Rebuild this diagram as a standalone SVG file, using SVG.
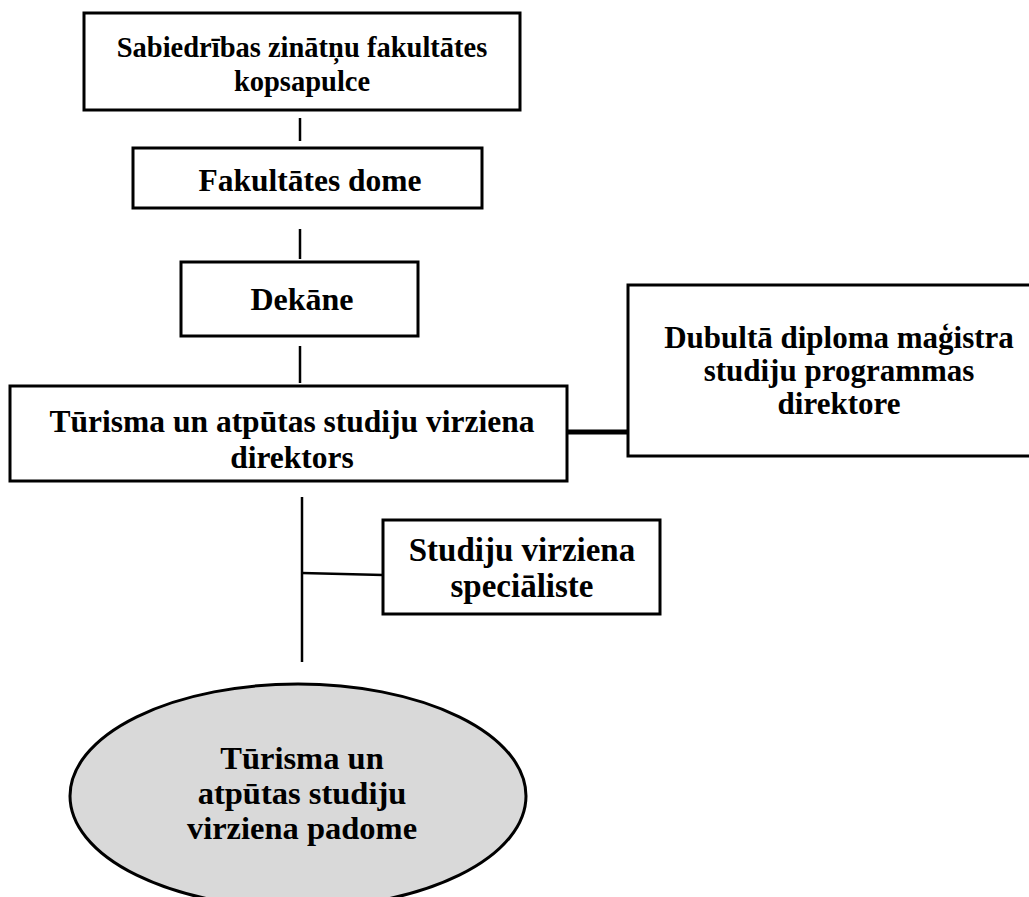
<svg xmlns="http://www.w3.org/2000/svg" width="1029" height="897" viewBox="0 0 1029 897">
<style>
.box{fill:#fff;stroke:#000;stroke-width:3}
.t{font-family:"Liberation Serif",serif;font-weight:bold;font-size:31.5px;text-anchor:middle;fill:#000}
.c{stroke:#000;stroke-width:2.5;fill:none}
</style>
<rect width="1029" height="897" fill="#fff"/>
<g id="connectors">
<line class="c" x1="300" y1="118" x2="300" y2="141"/>
<line class="c" x1="300" y1="229" x2="300" y2="259"/>
<line class="c" x1="300" y1="346" x2="300" y2="383"/>
<line class="c" x1="567" y1="432" x2="628" y2="432" style="stroke-width:5"/>
<line class="c" x1="302" y1="497" x2="302" y2="662"/>
<line class="c" x1="302" y1="573" x2="383" y2="575"/>
</g>
<g id="n1">
<rect class="box" x="84" y="13" width="436" height="97"/>
<text class="t" x="302" y="57" style="font-size:28.5px">Sabiedrības zinātņu fakultātes</text>
<text class="t" x="302" y="91" style="font-size:28.5px">kopsapulce</text>
</g>
<g id="n2">
<rect class="box" x="133" y="148" width="349" height="60"/>
<text class="t" x="310" y="191">Fakultātes dome</text>
</g>
<g id="n3">
<rect class="box" x="181" y="262" width="237" height="74"/>
<text class="t" x="302" y="310" style="font-size:32px">Dekāne</text>
</g>
<g id="n4">
<rect class="box" x="10" y="386" width="557" height="95"/>
<text class="t" x="292" y="432">Tūrisma un atpūtas studiju virziena</text>
<text class="t" x="292" y="468">direktors</text>
</g>
<g id="n5">
<rect class="box" x="628" y="285" width="410" height="171"/>
<text class="t" x="839" y="348" style="font-size:31px">Dubultā diploma maģistra</text>
<text class="t" x="839" y="381" style="font-size:31px">studiju programmas</text>
<text class="t" x="839" y="414" style="font-size:31px">direktore</text>
</g>
<g id="n6">
<rect class="box" x="383" y="520" width="277" height="94"/>
<text class="t" x="522" y="561" style="font-size:33px">Studiju virziena</text>
<text class="t" x="522" y="597" style="font-size:33px">speciāliste</text>
</g>
<g id="n7">
<ellipse cx="298" cy="796" rx="228" ry="112" fill="#d9d9d9" stroke="#000" stroke-width="3"/>
<text class="t" x="302" y="769" style="font-size:32.5px">Tūrisma un</text>
<text class="t" x="302" y="804" style="font-size:32.5px">atpūtas studiju</text>
<text class="t" x="302" y="839" style="font-size:32.5px">virziena padome</text>
</g>
</svg>
